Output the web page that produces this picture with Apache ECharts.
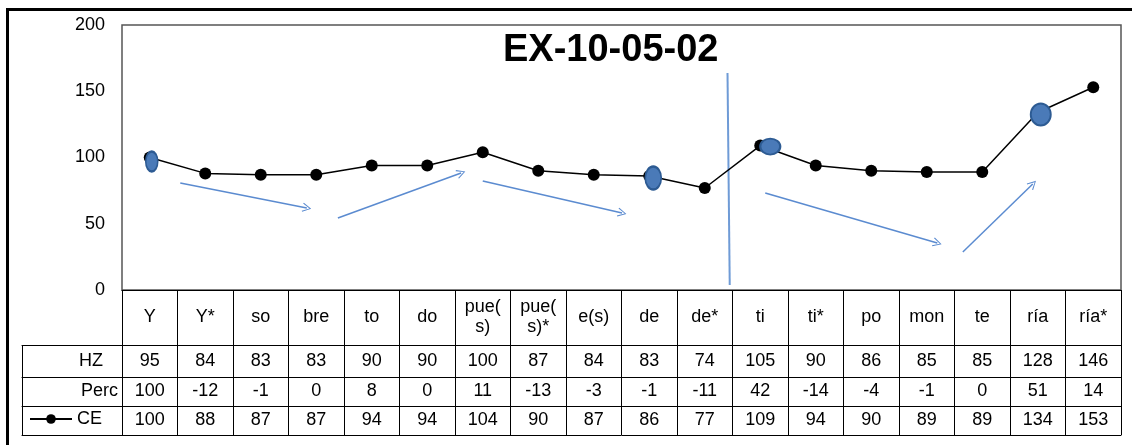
<!DOCTYPE html>
<html>
<head>
<meta charset="utf-8">
<script src="https://cdn.jsdelivr.net/npm/echarts@6/dist/echarts.min.js"></script>
<style>html,body{margin:0;padding:0;background:#fff}#c{width:1132px;height:445px}</style>
</head>
<body>
<div id="c"></div>
<script>
// ---- data ----
const categories = ['Y','Y*','so','bre','to','do','pue(\ns)','pue(\ns)*','e(s)','de','de*','ti','ti*','po','mon','te','ría','ría*'];
const HZ   = [95,84,83,83,90,90,100,87,84,83,74,105,90,86,85,85,128,146];
const Perc = [100,-12,-1,0,8,0,11,-13,-3,-1,-11,42,-14,-4,-1,0,51,14];
const CE   = [100,88,87,87,94,94,104,90,87,86,77,109,94,90,89,89,134,153];
const rowLabels = ['HZ','Perc','CE'];
const yTicks = [0,50,100,150,200];
// highlighted (circled) points, by category index
const highlighted = [0, 9, 11, 16];
// hand-drawn annotation arrows, in [category position, value] units
const arrows = [
  [[0.55, 80.8], [2.83, 61.9]],
  [[3.39, 54.3], [5.61, 88.3]],
  [[6.00, 82.3], [8.51, 58.1]],
  [[11.09, 73.2], [14.19, 35.5]],
  [[14.65, 28.7], [15.91, 80.0]]
];
const divider = [[10.41, 163.8], [10.45, 3.8]];

// ---- styles ----
const FONT = '"Liberation Sans", Arial, sans-serif';
const ellipseStyle = [
  {size:[12,20], offset:[2,4]},
  {size:[16,23], offset:[4,2]},
  {size:[20,16], offset:[10,1]},
  {size:[20,22], offset:[3,2]}
];
const idx = categories.map((_, i) => String(i));

const chart = echarts.init(document.getElementById('c'));

function tableAxis(grid, offset, tickLen, values, extra) {
  return Object.assign({
    type: 'category', gridIndex: grid, position: 'bottom', offset: offset,
    data: grid === 0 ? idx : values.map(String),
    boundaryGap: true,
    axisLine: {show: true, onZero: false, lineStyle: {color: '#000', width: 1}},
    axisTick: {show: tickLen > 0, interval: 0, length: tickLen, inside: false, lineStyle: {color: '#000', width: 1}},
    axisLabel: {
      show: tickLen > 0, interval: 0, verticalAlign: 'middle', margin: tickLen / 2,
      fontSize: 18, color: '#000', fontFamily: FONT, lineHeight: 20,
      formatter: grid === 0 ? ((v, i) => String(values[i])) : undefined
    },
    splitLine: {show: false}
  }, extra || {});
}

const option = {
  animation: false,
  backgroundColor: '#fff',
  title: {
    text: 'EX-10-05-02', left: 503, top: 32, padding: 0,
    textStyle: {fontSize: 38, fontWeight: 'bold', color: '#000', fontFamily: FONT}
  },
  legend: {
    data: ['CE'], left: 29, top: 410, padding: 0,
    itemWidth: 42, itemHeight: 12, itemGap: 5,
    textStyle: {fontSize: 18, color: '#000', fontFamily: FONT}
  },
  graphic: [{
    type: 'rect', left: 5, top: 7, z: 100,
    shape: {width: 1140, height: 460},
    style: {fill: 'none', stroke: '#000', lineWidth: 3}
  }],
  grid: [
    {left: 122, right: 11, top: 25, height: 265, show: true, borderColor: '#555', borderWidth: 1.5, backgroundColor: 'transparent'},
    {left: 22, width: 100, top: 25, height: 265, show: false}
  ],
  xAxis: [
    tableAxis(0, 0, 55, categories),
    tableAxis(0, 55, 32, HZ),
    tableAxis(0, 87, 29, Perc),
    tableAxis(0, 116, 29, CE),
    tableAxis(0, 145, 0, CE),
    {type: 'value', gridIndex: 0, position: 'top', min: -0.5, max: 17.5, show: false, axisLine: {onZero: false}},
    tableAxis(1, 55, 32, [rowLabels[0]], {axisLabel: {interval: 0, verticalAlign: 'middle', margin: 16, fontSize: 18, color: '#000', fontFamily: FONT,
      formatter: v => '{r|' + v + '}', rich: {r: {width: 62, align: 'right', fontSize: 18, fontFamily: FONT, color: '#000'}}}}),
    tableAxis(1, 87, 29, [rowLabels[1]], {axisLabel: {interval: 0, verticalAlign: 'middle', margin: 14.5, fontSize: 18, color: '#000', fontFamily: FONT,
      formatter: v => '{r|' + v + '}', rich: {r: {width: 92, align: 'right', fontSize: 18, fontFamily: FONT, color: '#000'}}}}),
    tableAxis(1, 116, 29, [''], {axisLabel: {show: false}}),
    tableAxis(1, 145, 0, [''])
  ],
  yAxis: [
    {type: 'value', gridIndex: 0, min: yTicks[0], max: yTicks[yTicks.length - 1], interval: 50,
      axisLine: {show: false, onZero: false}, axisTick: {show: false}, splitLine: {show: false},
      axisLabel: {fontSize: 18, color: '#000', fontFamily: FONT, margin: 17}},
    {type: 'value', gridIndex: 1, show: false, min: 0, max: 200, axisLine: {onZero: false}}
  ],
  series: [
    {
      name: 'CE', type: 'line', xAxisIndex: 0, yAxisIndex: 0,
      data: CE, symbol: 'circle', symbolSize: 12, z: 3,
      lineStyle: {color: '#000', width: 1.5},
      itemStyle: {color: '#000'}
    },
    {
      name: 'highlight', type: 'scatter', xAxisIndex: 0, yAxisIndex: 0, z: 10,
      data: highlighted.map((i, k) => ({
        value: [String(i), CE[i]],
        symbolSize: ellipseStyle[k].size, symbolOffset: ellipseStyle[k].offset
      })),
      symbol: 'circle',
      itemStyle: {color: '#4a7ab8', borderColor: '#2d5b93', borderWidth: 2, opacity: 1}
    },
    {
      name: 'arrows', type: 'lines', coordinateSystem: 'cartesian2d', xAxisIndex: 5, yAxisIndex: 0, z: 2,
      data: arrows.map(a => ({coords: a})),
      symbol: ['none', 'path://M0,10 L5,0 L10,10 L9,10.8 L5,2.2 L1,10.8 Z'],
      symbolSize: [13, 9],
      lineStyle: {color: '#5b8bd0', width: 1.5, opacity: 1}
    },
    {
      name: 'divider', type: 'lines', coordinateSystem: 'cartesian2d', xAxisIndex: 5, yAxisIndex: 0, z: 2,
      data: [{coords: divider}], symbol: ['none', 'none'],
      lineStyle: {color: '#6f9bd6', width: 2, opacity: 1}
    }
  ]
};
chart.setOption(option);
</script>
</body>
</html>
